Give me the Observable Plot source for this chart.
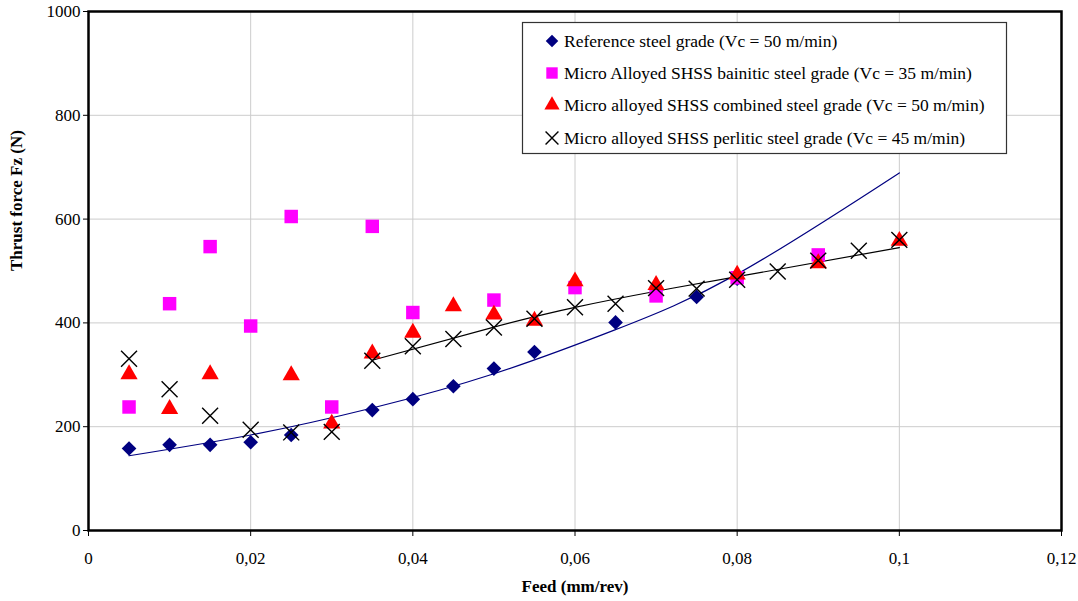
<!DOCTYPE html>
<html><head><meta charset="utf-8">
<script src="https://cdn.jsdelivr.net/npm/d3@7"></script>
<script src="https://cdn.jsdelivr.net/npm/@observablehq/plot@0.6"></script>
<style>
body{margin:0;background:#fff;}
</style></head><body>
<div id="chart"></div>
<script>
// Reference steel grade (Vc = 50 m/min)
const refFeed  = [0.005,0.01,0.015,0.02,0.025,0.035,0.04,0.045,0.05,0.055,0.065,0.075,0.08];
const refForce = [158,165,165,170,184,232,253,278,312,344,401,450,485];
// Micro Alloyed SHSS bainitic (Vc = 35 m/min)
const baiFeed  = [0.005,0.01,0.015,0.02,0.025,0.03,0.035,0.04,0.05,0.06,0.07,0.08,0.09];
const baiForce = [238,437,547,394,605,238,586,420,444,468,452,487,531];
// Micro alloyed SHSS combined (Vc = 50 m/min)
const comFeed  = [0.005,0.01,0.015,0.025,0.03,0.035,0.04,0.045,0.05,0.055,0.06,0.07,0.08,0.09,0.1];
const comForce = [301,234,301,299,206,341,381,432,416,404,480,473,493,515,558];
// Micro alloyed SHSS perlitic (Vc = 45 m/min)
const perFeed  = [0.005,0.01,0.015,0.02,0.025,0.03,0.035,0.04,0.045,0.05,0.055,0.06,0.065,0.07,0.075,0.08,0.085,0.09,0.095,0.1];
const perForce = [331,272,221,194,189,190,327,355,369,391,408,430,437,467,466,483,499,520,539,560];
// Trend lines
const refTrendFeed  = [0.005,0.02,0.035,0.05,0.065,0.08,0.1];
const refTrendForce = [144,184,236,302,387,494,689];
const perTrendFeed  = [0.035,0.05,0.06,0.07,0.08,0.1];
const perTrendForce = [328,392,430,461,489,545];

const xTicks = [0,0.02,0.04,0.06,0.08,0.1,0.12];
const yTicks = [0,200,400,600,800,1000];
const legendLabels = [
  "Reference steel grade (Vc = 50 m/min)",
  "Micro Alloyed SHSS bainitic steel grade (Vc = 35 m/min)",
  "Micro alloyed SHSS combined steel grade (Vc = 50 m/min)",
  "Micro alloyed SHSS perlitic steel grade (Vc = 45 m/min)"
];

const zip = (xs, ys) => xs.map((x,i)=>({x, y: ys[i]}));
const ref = zip(refFeed, refForce), bai = zip(baiFeed, baiForce),
      com = zip(comFeed, comForce), per = zip(perFeed, perForce),
      refT = zip(refTrendFeed, refTrendForce), perT = zip(perTrendFeed, perTrendForce);

const fmt = d => d === 0 ? "0" : String(d).replace(".", ",");
const FONT = "'Liberation Serif', 'Times New Roman', serif";

const chart = Plot.plot({
  width: 1078, height: 601,
  marginLeft: 88, marginRight: 17, marginTop: 11, marginBottom: 71,
  style: {fontFamily: FONT, fontSize: "16px", color: "#000", background: "#fff"},
  x: {domain: [0, 0.12]},
  y: {domain: [0, 1000]},
  marks: [
    Plot.gridX(xTicks, {stroke: "#cccccc", strokeOpacity: 1, strokeWidth: 1}),
    Plot.gridY(yTicks, {stroke: "#cccccc", strokeOpacity: 1, strokeWidth: 1}),
    Plot.axisX(xTicks, {tickFormat: fmt, tickSize: 6, tickPadding: 15, fontSize: 17, label: null}),
    Plot.axisY(yTicks, {tickFormat: d => String(d), tickSize: 5, tickPadding: 3, fontSize: 17, label: null}),
    Plot.text(["Feed (mm/rev)"], {frameAnchor: "bottom", dy: 61, fontWeight: "bold", fontSize: 17}),
    Plot.text(["Thrust force Fz (N)"], {frameAnchor: "left", dx: -72, rotate: -90, fontWeight: "bold", fontSize: 17}),
    Plot.line(refT, {x: "x", y: "y", curve: "natural", stroke: "#000080", strokeWidth: 1.2}),
    Plot.line(perT, {x: "x", y: "y", curve: "natural", stroke: "#000", strokeWidth: 1.2}),
    Plot.dot(ref, {x: "x", y: "y", symbol: "diamond2", r: 6.6, fill: "#000080", stroke: "none"}),
    Plot.dot(bai, {x: "x", y: "y", symbol: "square", r: 7.6, fill: "#ff00ff", stroke: "none"}),
    Plot.dot(com, {x: "x", y: "y", symbol: "triangle", r: 6.4, fill: "#ff0000", stroke: "none"}),
    Plot.dot(per, {x: "x", y: "y", symbol: "times", r: 7.3, stroke: "#000", strokeWidth: 1.4}),
    Plot.frame({stroke: "#000", strokeWidth: 2.5})
  ]
});
document.getElementById("chart").appendChild(chart);

// legend, drawn into the same SVG
const symbols = [
  {sym: d3.symbolDiamond2, size: 100, fill: "#000080", stroke: "none"},
  {sym: d3.symbolSquare, size: 130, fill: "#ff00ff", stroke: "none"},
  {sym: d3.symbolTriangle, size: 100, fill: "#ff0000", stroke: "none"},
  {sym: d3.symbolTimes, size: 110, fill: "none", stroke: "#000"}
];
const svg = d3.select(chart);
const lg = svg.append("g").attr("transform", "translate(522,22)")
  .style("font-family", FONT).style("font-size", "17.5px").style("text-anchor", "start");
lg.append("rect").attr("x", 0.5).attr("y", 0.5).attr("width", 484).attr("height", 131)
  .attr("fill", "#fff").attr("stroke", "#333").attr("stroke-width", 1.2);
const rowY = [19, 51, 83, 116];
legendLabels.forEach((lab, i) => {
  const s = symbols[i];
  lg.append("path").attr("d", d3.symbol(s.sym, s.size)())
    .attr("transform", `translate(30,${rowY[i]})`)
    .attr("fill", s.fill).attr("stroke", s.stroke).attr("stroke-width", 1.4);
  lg.append("text").attr("x", 42).attr("y", rowY[i]).attr("dy", "0.35em")
    .style("text-anchor", "start").attr("fill", "#000").text(lab);
});
</script>
</body></html>
